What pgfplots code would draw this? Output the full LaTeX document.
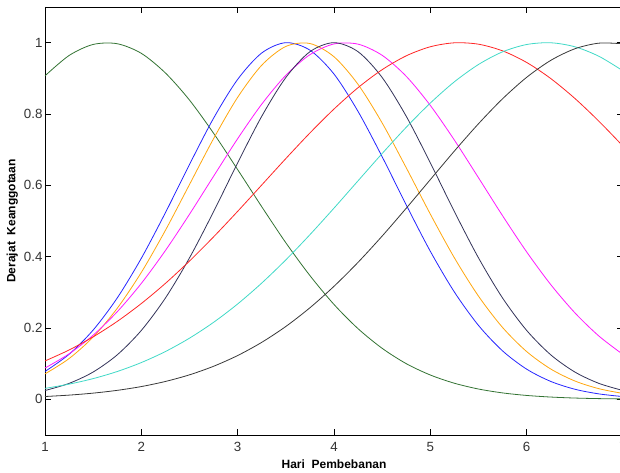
\documentclass[border=0pt]{standalone}
\usepackage{pgfplots}
\pgfplotsset{compat=1.18}
\usepackage{pgfplotstable}
\usepackage{fontspec}
\setmainfont{Liberation Sans}

\definecolor{cgreen}{rgb}{0.20,0.45,0.20}
\definecolor{cblue}{rgb}{0.15,0.15,1.00}
\definecolor{corange}{rgb}{1.00,0.65,0.05}
\definecolor{cmagenta}{rgb}{1.00,0.10,1.00}
\definecolor{cslate}{rgb}{0.20,0.20,0.35}
\definecolor{cred}{rgb}{1.00,0.15,0.15}
\definecolor{ccyan}{rgb}{0.25,0.85,0.78}
\definecolor{cblack}{rgb}{0.22,0.22,0.22}

% x, lalu nilai keanggotaan tiap kurva
\pgfplotstableread{
x    g      b      o      m      s      r      c      k
1    0.907  0.0781 0.0713 0.0877 0.0247 0.1076 0.0307 0.0079
1.25 0.964  0.1263 0.1143 0.1276 0.0447 0.1383 0.0426 0.0118
1.5  0.995  0.1943 0.1748 0.1798 0.0766 0.1752 0.0581 0.0174
1.75 0.997  0.2843 0.2553 0.2456 0.1248 0.2185 0.0780 0.0252
2    0.970  0.3955 0.3559 0.3251 0.1932 0.2686 0.1031 0.0358
2.25 0.915  0.5233 0.4739 0.4172 0.2840 0.3251 0.1340 0.0501
2.5  0.839  0.6585 0.6023 0.5189 0.3966 0.3877 0.1715 0.0687
2.75 0.746  0.7882 0.7309 0.6255 0.5262 0.4555 0.2159 0.0927
3    0.644  0.8971 0.8468 0.7308 0.6630 0.5271 0.2674 0.1228
3.25 0.540  0.9711 0.9368 0.8276 0.7936 0.6010 0.3260 0.1598
3.5  0.439  1.000  0.9894 0.9084 0.9023 0.6750 0.3910 0.2043
3.75 0.347  0.979  0.9976 0.9663 0.9746 0.7468 0.4616 0.2567
4    0.266  0.912  0.9605 0.9964 1.000  0.8139 0.5361 0.3169
4.25 0.198  0.807  0.8829 0.9958 0.9746 0.8739 0.6128 0.3842
4.5  0.143  0.680  0.7748 0.9645 0.9023 0.9243 0.6892 0.4578
4.75 0.100  0.545  0.6492 0.9056 0.7936 0.9631 0.7628 0.5358
5    0.0682 0.415  0.5193 0.8240 0.6630 0.9885 0.8307 0.6161
5.25 0.0451 0.3007 0.3966 0.7267 0.5262 0.9996 0.8903 0.6962
5.5  0.0289 0.2072 0.2893 0.6212 0.3966 0.9957 0.9388 0.7727
5.75 0.0180 0.1358 0.2014 0.5147 0.2840 0.9770 0.9743 0.8427
6    0.0109 0.0846 0.1339 0.4133 0.1932 0.9445 0.9948 0.9028
6.25 0.0064 0.0502 0.0850 0.3217 0.1248 0.8994 0.9997 0.9503
6.5  0.0036 0.0283 0.0515 0.2427 0.0766 0.8437 0.9885 0.9828
6.75 0.0020 0.0152 0.0298 0.1774 0.0447 0.7797 0.9618 0.9986
7    0.0011 0.0077 0.0165 0.1257 0.0247 0.7099 0.9209 0.9968
}\datatable

\begin{document}
\begin{tikzpicture}
\begin{axis}[
    scale only axis,
    width=433.5pt, height=321pt,
    xmin=1, xmax=7, ymin=-0.1, ymax=1.1,
    xtick={1,2,3,4,5,6,7},
    ytick={0,0.2,0.4,0.6,0.8,1},
    tick pos=both, tick align=inside,
    major tick length=4.5pt,
    every tick/.style={black, line width=0.6pt},
    axis line style={black, line width=0.6pt},
    /pgf/number format/assume math mode=true,
    tick label style={font=\fontsize{10}{12}\selectfont, color=black!80},
    xticklabel style={yshift=-1.7pt},
    yticklabel style={xshift=1.6pt},
    xlabel={Hari\ \ Pembebanan},
    ylabel={Derajat\ \ Keanggotaan},
    label style={font=\fontsize{9}{11}\selectfont\bfseries},
    xlabel style={at={(axis description cs:0.5,-0.0678)}, anchor=center},
    ylabel style={at={(axis description cs:-0.0565,0.5)}, anchor=center},
    every axis plot/.append style={line width=0.6pt, smooth, no markers},
]
\addplot[cgreen]   table[x=x, y=g] {\datatable};
\addplot[cblue]    table[x=x, y=b] {\datatable};
\addplot[corange]  table[x=x, y=o] {\datatable};
\addplot[cmagenta] table[x=x, y=m] {\datatable};
\addplot[cslate]   table[x=x, y=s] {\datatable};
\addplot[cred]     table[x=x, y=r] {\datatable};
\addplot[ccyan]    table[x=x, y=c] {\datatable};
\addplot[cblack]   table[x=x, y=k] {\datatable};
\end{axis}
\pgfresetboundingbox
\useasboundingbox (-33.75pt,-28.5pt) rectangle (431.25pt,326.25pt);
\end{tikzpicture}
\end{document}
